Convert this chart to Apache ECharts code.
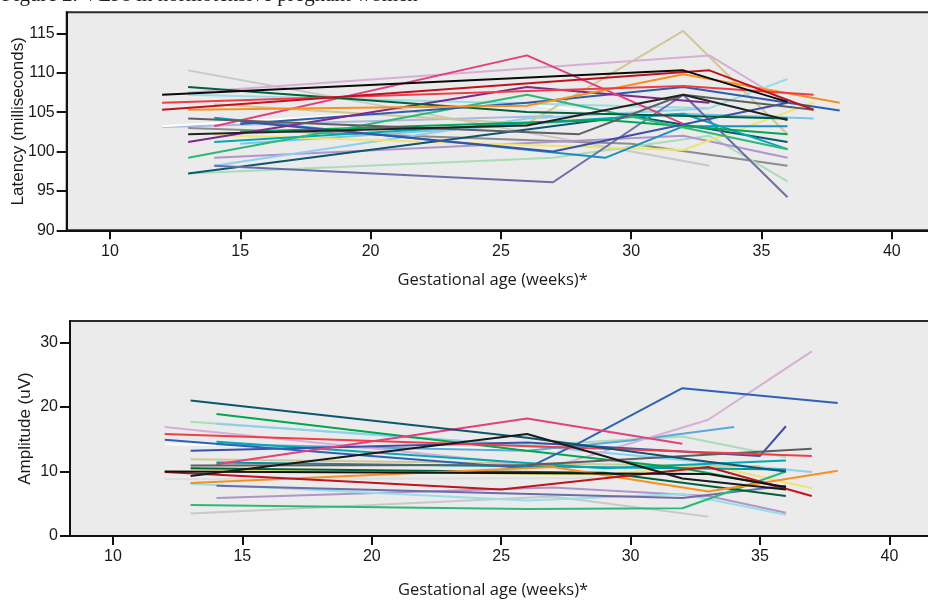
<!DOCTYPE html>
<html>
<head>
<meta charset="utf-8">
<script src="https://cdn.jsdelivr.net/npm/echarts@6/dist/echarts.min.js"></script>
<style>
html,body{margin:0;padding:0;background:#fff;}
#c{width:928px;height:601px;}
</style>
</head>
<body>
<div id="c"></div>
<script>
// ---- tick labels ----
const weekTicks = [10, 15, 20, 25, 30, 35, 40];
const latencyTicks = [90, 95, 100, 105, 110, 115];
const amplitudeTicks = [0, 10, 20, 30];

// ---- Latency (ms) per subject: [gestational week, value] ----
const latBlack      = [[12,107.2],[32,110.3],[36,106.3]];
const latDarkRed    = [[12,105.3],[33,110.3],[37,105.3]];
const latRed        = [[12,106.2],[32,108.3],[37,107.2]];
const latLilac      = [[13,107.5],[33,112.2],[36,106.2]];
const latDarkGreen  = [[13,108.2],[26,105.0],[36,104.2]];
const latLightCyan  = [[13,107.2],[33,105.5],[36,109.2]];
const latOrange     = [[13,105.3],[26,105.8],[32,109.8],[38,106.2]];
const latWhite      = [[12,103.2],[26,106.0],[33,103.5]];
const latLavBlue    = [[12,103.1],[27,104.5]];
const latDarkGray   = [[13,104.2],[28,102.2],[32,107.2],[37,105.3]];
const latPink       = [[14,103.2],[26,112.2],[32,103.5]];
const latPurple     = [[13,101.2],[26,108.2],[33,106.2]];
const latBlack2     = [[13,102.2],[26,103.3],[32,107.2],[36,104.0]];
const latYellow     = [[14,102.1],[32,100.2],[37,106.2]];
const latCyan       = [[14,101.2],[32,104.8],[36,100.3]];
const latGreen      = [[13,99.2],[26,107.2],[36,100.3]];
const latBrightGreen= [[15,102.5],[29,104.0],[36,102.2]];
const latSteel      = [[14,104.3],[29,99.2],[32,103.2],[36,103.2]];
const latSky        = [[15,101.0],[32,104.8],[37,104.2]];
const latSky2       = [[14,98.2],[26,104.2],[33,105.5]];
const latLavender   = [[14,99.2],[32,102.0],[36,99.2]];
const latDarkTeal   = [[13,97.2],[30,104.5],[36,101.2]];
const latLightGreen = [[13,97.2],[27,99.2],[33,102.0],[36,96.2]];
const latSlate      = [[14,98.2],[27,96.1],[32,107.2],[36,94.2]];
const latKhaki      = [[14,106.0],[26,103.5],[32,115.3],[36,102.2]];
const latRoyal      = [[15,103.5],[26,106.2],[32,108.2],[38,105.2]];
const latIndigo     = [[15,103.8],[27,100.0],[36,106.2]];
const latMidGray    = [[13,103.0],[30,101.0],[36,98.2]];
const latLightGray  = [[13,110.3],[33,98.2]];

// ---- Amplitude (uV) per subject: [gestational week, value] ----
const ampDarkTeal   = [[13,21.0],[26,15.2],[33,11.5],[36,10.0]];
const ampGreen      = [[14,18.9],[26,13.2],[32,10.5],[36,7.5]];
const ampLightGreen = [[13,17.7],[26,14.0],[32,15.4],[36,12.2]];
const ampSky        = [[14,17.4],[26,14.0],[37,9.9]];
const ampLilac      = [[12,16.9],[27,10.7],[33,18.0],[37,28.6]];
const ampRed        = [[12,15.8],[29,13.5],[37,12.4]];
const ampWhite      = [[12,14.2],[33,13.1]];
const ampRoyal      = [[12,14.9],[26,10.5],[28,14.4],[32,22.9],[38,20.6]];
const ampIndigo     = [[13,13.2],[26,14.5],[35,12.4],[36,17.0]];
const ampCyan       = [[14,14.6],[29,10.5],[36,11.7]];
const ampKhaki      = [[13,11.9],[35,10.8]];
const ampPink       = [[14,11.1],[26,18.2],[32,14.3]];
const ampDarkGray   = [[13,10.9],[26,11.0],[37,13.5]];
const ampTeal       = [[14,11.4],[36,10.3]];
const ampBlack      = [[13,9.3],[26,15.8],[32,8.9],[36,7.2]];
const ampBlack2     = [[12,10.0],[33,9.6],[36,7.6]];
const ampDarkRed    = [[12,9.9],[25,7.2],[33,10.7],[37,6.2]];
const ampPaleGray   = [[12,8.8],[30,9.0]];
const ampOrange     = [[13,8.2],[27,10.7],[33,6.9],[38,10.1]];
const ampLightCyan  = [[13,8.1],[26,5.5],[32,6.5],[36,3.3]];
const ampSlate      = [[14,7.8],[32,5.9],[36,7.8]];
const ampLavender   = [[14,5.9],[27,7.5],[33,6.2],[36,3.6]];
const ampGreenMed   = [[13,4.8],[26,4.2],[32,4.3],[36,10.0]];
const ampLightGray  = [[13,3.5],[27,6.1],[33,3.0]];
const ampSky2       = [[14,14.2],[26,13.2],[30,14.8],[34,16.9]];
const ampYellow     = [[13,10.3],[29,9.5],[33,11.0],[37,7.4]];
const ampDarkGreen  = [[13,10.5],[29,9.8],[36,6.2]];

const latList = [
  [latLightGray,'#c8c8c8'],[latLavBlue,'#aab9e2'],[latWhite,'#ffffff'],[latMidGray,'#8c8c8c'],
  [latLightGreen,'#a9dcb9'],[latLavender,'#b095cc'],[latSky,'#7cc5ea'],[latSky2,'#8ccff0'],
  [latYellow,'#efe56e'],[latKhaki,'#cfc894'],[latLilac,'#d7aed7'],[latLightCyan,'#99dde6'],
  [latDarkTeal,'#0d5670'],[latSlate,'#6b6ea8'],[latSteel,'#1b8fc2'],[latCyan,'#00a9b5'],
  [latBrightGreen,'#00a651'],[latGreen,'#2db87a'],[latIndigo,'#3d50a8'],[latRoyal,'#2d5eac'],
  [latPurple,'#7d2a8c'],[latPink,'#e2407f'],[latDarkGreen,'#00613a'],[latDarkGray,'#5f5f5f'],
  [latBlack2,'#222222'],[latOrange,'#f7901e'],[latRed,'#ef3e4a'],[latDarkRed,'#c1121f'],
  [latBlack,'#0a0a0a']
];
const ampList = [
  [ampLightGray,'#c8c8c8'],[ampPaleGray,'#dedede'],[ampWhite,'#ffffff'],[ampLightGreen,'#a9dcb9'],
  [ampLavender,'#b095cc'],[ampSky,'#8ccff0'],[ampSky2,'#5aa9dc'],[ampYellow,'#efe56e'],
  [ampKhaki,'#cfc894'],[ampLilac,'#d7aed7'],[ampLightCyan,'#99dde6'],[ampSlate,'#6b6ea8'],
  [ampTeal,'#0096a8'],[ampCyan,'#00a9b5'],[ampGreenMed,'#2db87a'],[ampGreen,'#00a651'],
  [ampDarkGreen,'#00613a'],[ampIndigo,'#3d50a8'],[ampRoyal,'#2d62b8'],[ampPink,'#e2407f'],
  [ampDarkGray,'#5f5f5f'],[ampOrange,'#f7901e'],[ampRed,'#ef3e4a'],[ampDarkRed,'#c1121f'],
  [ampDarkTeal,'#0d5670'],[ampBlack2,'#111111'],[ampBlack,'#1a1a1a']
];

const series = [];
latList.forEach(function(s){
  series.push({type:'line', xAxisIndex:0, yAxisIndex:0, data:s[0], symbol:'none',
    lineStyle:{color:s[1], width:2}, itemStyle:{color:s[1]}, silent:true});
});
ampList.forEach(function(s){
  series.push({type:'line', xAxisIndex:1, yAxisIndex:1, data:s[0], symbol:'none',
    lineStyle:{color:s[1], width:2}, itemStyle:{color:s[1]}, silent:true});
});

const labelFont = {fontFamily:'Liberation Sans', fontSize:16, color:'#1a1a1a'};
const axisLineStyle = {show:true, lineStyle:{color:'#111', width:2}};
const tickLine = {color:'#111', width:2};

function xAxisDef(idx, gap, margin){
  return {
    type:'value', gridIndex:idx, min:8.34, max:41.8,
    axisLine:axisLineStyle,
    axisTick:{show:true, length:9, inside:false, customValues:weekTicks, lineStyle:tickLine},
    axisLabel:Object.assign({margin:margin, customValues:weekTicks}, labelFont),
    splitLine:{show:false},
    name:'Gestational age (weeks)*', nameLocation:'middle', nameGap:gap,
    nameTextStyle:{fontFamily:'Open Sans', fontSize:16.5, color:'#1a1a1a', padding:[0,20,0,0]}
  };
}
function yAxisDef(idx, min, max, ticks, name, gap){
  return {
    type:'value', gridIndex:idx, min:min, max:max,
    axisLine:axisLineStyle,
    axisTick:{show:true, length:10, customValues:ticks, lineStyle:tickLine},
    axisLabel:Object.assign({margin:12, customValues:ticks, padding:[5,0,0,0]}, labelFont),
    splitLine:{show:false},
    name:name, nameLocation:'middle', nameGap:gap, nameMoveOverlap:false,
    nameTextStyle:{fontFamily:'Liberation Sans', fontSize:17, color:'#1a1a1a'}
  };
}

const option = {
  animation:false,
  backgroundColor:'#ffffff',
  graphic:[{
    type:'text', left:2, top:-15,
    style:{text:'Figure 2. VEPs in normotensive pregnant women', fontFamily:'Liberation Serif', fontSize:21, fill:'#222'}
  }],
  grid:[
    {left:66.7, top:12.3, width:872, height:218, outerBoundsMode:'none', containLabel:false, show:true, backgroundColor:'#ebebeb', borderColor:'#2a2a2a', borderWidth:2},
    {left:70, top:321, width:866, height:215, outerBoundsMode:'none', containLabel:false, show:true, backgroundColor:'#ebebeb', borderColor:'#2a2a2a', borderWidth:2}
  ],
  xAxis:[ xAxisDef(0, 41, 13), xAxisDef(1, 46, 13) ],
  yAxis:[
    yAxisDef(0, 90, 117.67, latencyTicks, 'Latency (milliseconds)', 40),
    yAxisDef(1, 0, 33.3, amplitudeTicks, 'Amplitude (uV)', 36)
  ],
  series:series
};

const chart = echarts.init(document.getElementById('c'), null, {renderer:'canvas'});
chart.setOption(option);
</script>
</body>
</html>
